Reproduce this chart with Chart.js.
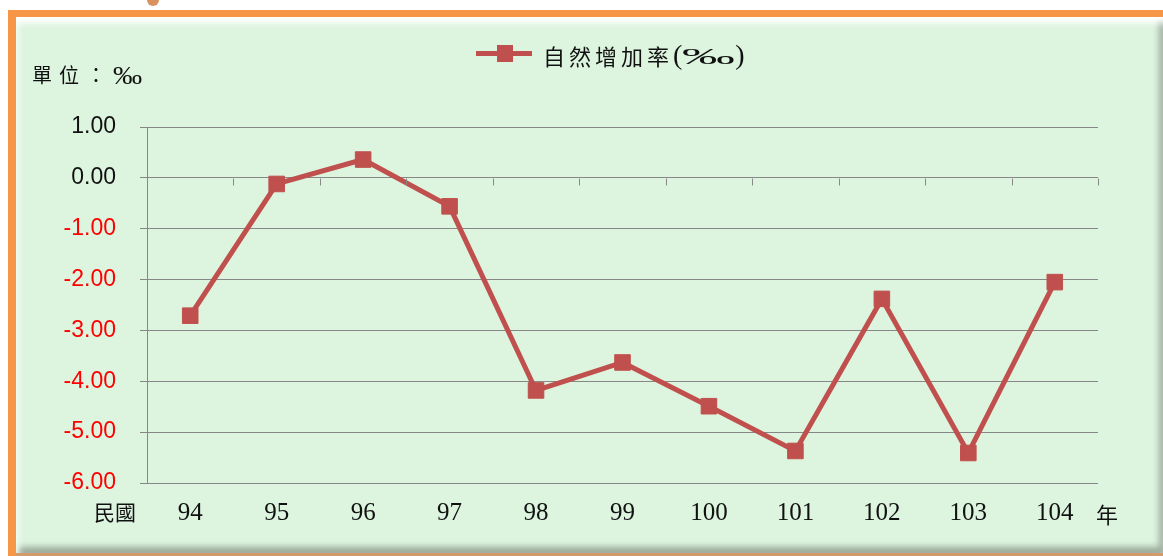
<!DOCTYPE html>
<html><head><meta charset="utf-8">
<script src="https://cdn.jsdelivr.net/npm/chart.js@4/dist/chart.umd.min.js"></script>
<style>
html,body{margin:0;padding:0;background:#fff;width:1163px;height:556px;overflow:hidden;position:relative;}
#dot{position:absolute;left:147px;top:-6px;width:12px;height:12px;border-radius:50%;background:#d9925f;}
#frame{position:absolute;left:8px;top:10px;width:1155px;height:546px;background:#F79646;}
#panel{position:absolute;left:16px;top:17px;width:1147px;height:536px;background:#DDF4DF;
  box-shadow: inset 0 10px 7px -4px #ffffff, inset 7px 0 6px -4px #f2fff2, inset -7px 0 6px -3px #9fb0a0, inset 0 -9px 6px -3px #98a898;}
#bottomline{position:absolute;left:16px;top:553px;width:1147px;height:3px;background:#d59a6c;}
canvas{position:absolute;left:0;top:0;}
.txt{position:absolute;white-space:nowrap;color:#111;font-family:"Noto Sans CJK TC","Noto Sans CJK SC",sans-serif;line-height:1;}
#legend{position:absolute;left:476px;top:40px;height:28px;}
#legline{position:absolute;left:0;top:11px;width:56px;height:5px;background:#C0504D;}
#legbox{position:absolute;left:21px;top:5px;width:16px;height:17px;background:#C0504D;}
#legtext{position:absolute;left:67px;top:2px;font-size:22px;letter-spacing:4px;}
.ser{font-family:"Liberation Serif","DejaVu Serif",serif;letter-spacing:0;display:inline-block;}
.pm{display:inline-block;transform-origin:left center;}
</style></head>
<body>
<div id="dot"></div>
<div id="frame"></div>
<div id="panel"></div>
<div id="bottomline"></div>
<canvas id="c" width="1163" height="556"></canvas>
<div id="legend"><div id="legline"></div><div id="legbox"></div>
  <div id="legtext" class="txt">自然增加率<span class="ser" style="font-size:28px;position:relative;top:-1px;">(<span class="pm" style="font-size:24px;transform:scaleX(2.2);margin-right:29px;">‰</span>)</span></div></div>
<div class="txt" id="unit" style="left:32px;top:62px;font-size:20px;letter-spacing:7px;">單位：<span class="ser" style="font-size:26px;position:relative;top:1px;"><span class="pm" style="transform:scaleX(1.12);">‰</span></span></div>
<div class="txt" id="minguo" style="left:94px;top:501px;font-size:21px;">民國</div>
<div class="txt" id="nian" style="left:1096px;top:502px;font-size:22px;">年</div>
<script>
const years = ['94','95','96','97','98','99','100','101','102','103','104'];
const seriesName = '自然增加率(‰)';
const rates = [-2.71, -0.12, 0.36, -0.56, -4.18, -3.63, -4.49, -5.37, -2.38, -5.41, -2.05];
const yMin = -6, yMax = 1, yStep = 1;

const lineColor = '#C0504D';
const gridColor = '#878787';

const zeroTicks = {
  id: 'zeroTicks',
  afterDraw(chart) {
    const xs = chart.scales.x, ys = chart.scales.y;
    const y0 = ys.getPixelForValue(0);
    const ctx = chart.ctx;
    ctx.save();
    ctx.strokeStyle = gridColor;
    ctx.lineWidth = 1;
    ctx.beginPath();
    for (let i = 1; i <= years.length; i++) {
      let x;
      if (i < years.length) x = (xs.getPixelForValue(i - 1) + xs.getPixelForValue(i)) / 2;
      else x = xs.right;
      x = Math.round(x) + 0.5;
      ctx.moveTo(x, Math.round(y0) + 0.5);
      ctx.lineTo(x, Math.round(y0) + 7.5);
    }
    ctx.stroke();
    ctx.restore();
  }
};

new Chart(document.getElementById('c'), {
  type: 'line',
  data: {
    labels: years,
    datasets: [{
      label: seriesName,
      data: rates,
      borderColor: lineColor,
      backgroundColor: lineColor,
      borderWidth: 5,
      pointStyle: 'rect',
      pointRadius: 11,
      pointHoverRadius: 11,
      pointBorderWidth: 1,
      pointBorderColor: lineColor,
      pointBackgroundColor: lineColor,
      tension: 0
    }]
  },
  options: {
    responsive: false,
    animation: false,
    devicePixelRatio: 1,
    layout: { padding: { top: 127, left: 0, right: 65, bottom: 0 } },
    plugins: { legend: { display: false }, tooltip: { enabled: false } },
    scales: {
      x: {
        offset: true,
        grid: { display: false, drawTicks: false },
        border: { display: false },
        ticks: {
          padding: 15,
          color: '#111',
          font: { family: 'Liberation Serif', size: 25 },
          maxRotation: 0, autoSkip: false
        },
        afterFit(s) { s.height = 73; }
      },
      y: {
        min: yMin, max: yMax,
        grid: { color: gridColor, lineWidth: 1, tickLength: 7, tickColor: gridColor },
        border: { display: true, color: gridColor, width: 1 },
        ticks: {
          stepSize: yStep,
          padding: 24,
          font: { family: 'Liberation Sans', size: 23 },
          color: (c) => c.tick.value < 0 ? '#FF0000' : '#111111',
          callback: (v) => Number(v).toFixed(2)
        },
        afterFit(s) { s.width = 147; }
      }
    }
  },
  plugins: [zeroTicks]
});
</script>
</body></html>
